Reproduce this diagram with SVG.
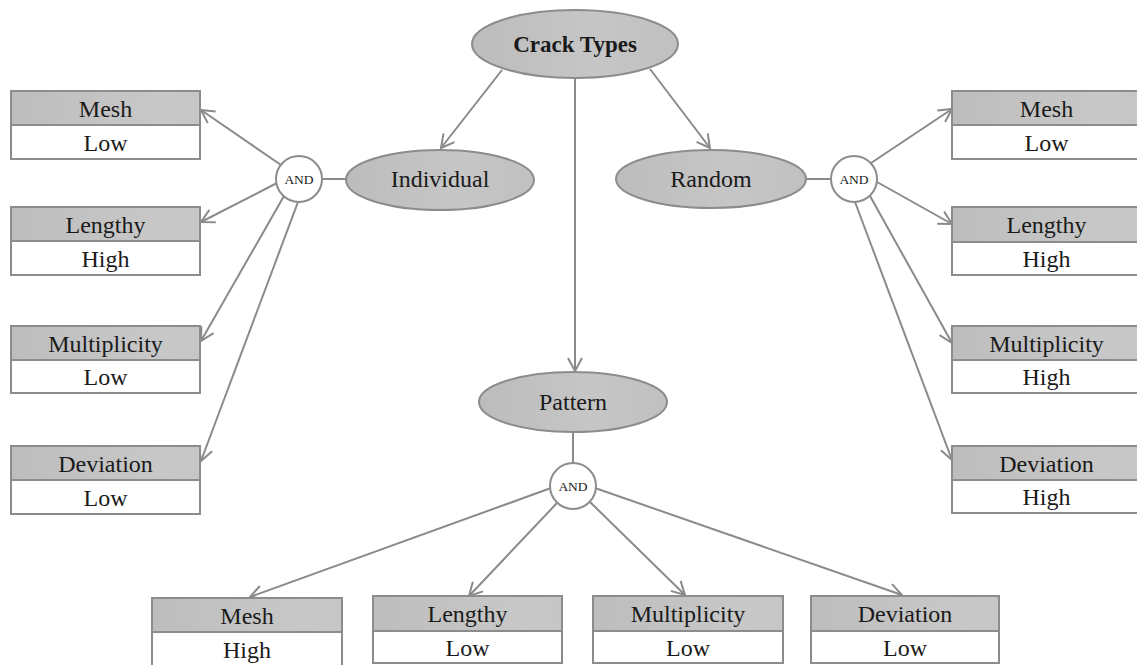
<svg xmlns="http://www.w3.org/2000/svg" width="1137" height="665" viewBox="0 0 1137 665">
<style>
.t{font-family:"Liberation Serif","Times New Roman",serif;font-size:24px;fill:#1a1a1a;text-anchor:middle}
.and{font-family:"Liberation Serif","Times New Roman",serif;font-size:13.5px;fill:#1a1a1a;text-anchor:middle}
.hd{fill:url(#hg);stroke:#8c8c8c;stroke-width:2}
.vl{fill:#fff;stroke:#8c8c8c;stroke-width:2}
.el{fill:url(#eg);stroke:#8c8c8c;stroke-width:2}
.ci{fill:#fff;stroke:#8c8c8c;stroke-width:2}
.c{stroke:#8a8a8a;stroke-width:2;fill:none}
.a{marker-end:url(#ar)}
</style>
<defs>
<linearGradient id="hg" x1="0" x2="1" y1="0" y2="0"><stop offset="0" stop-color="#bdbdbd"/><stop offset="0.8" stop-color="#c8c8c8"/><stop offset="1" stop-color="#c6c6c6"/></linearGradient>
<linearGradient id="eg" x1="0" x2="1" y1="0" y2="0"><stop offset="0" stop-color="#bcbcbc"/><stop offset="0.6" stop-color="#c6c6c6"/><stop offset="1" stop-color="#c0c0c0"/></linearGradient>
<marker id="ar" markerUnits="userSpaceOnUse" markerWidth="16" markerHeight="16" viewBox="0 0 16 16" refX="15" refY="8" orient="auto">
<path d="M2,1 L15,8 L2,15" fill="none" stroke="#8a8a8a" stroke-width="2"/>
</marker>
</defs>
<rect width="1137" height="665" fill="#fff"/>
<g id="connectors">
<line class="c a" x1="502" y1="70" x2="441" y2="148"/>
<line class="c a" x1="650" y1="69" x2="710" y2="148"/>
<line class="c a" x1="575" y1="78" x2="575" y2="371"/>
<line class="c" x1="322" y1="179" x2="346" y2="179"/>
<line class="c" x1="806" y1="179" x2="831" y2="179"/>
<line class="c" x1="573" y1="432" x2="573" y2="463"/>
<line class="c a" x1="281" y1="165" x2="201" y2="110"/>
<line class="c a" x1="277" y1="183" x2="201" y2="222"/>
<line class="c a" x1="284" y1="196" x2="201" y2="341"/>
<line class="c a" x1="298" y1="202" x2="201" y2="461"/>
<line class="c a" x1="871" y1="163" x2="952" y2="109"/>
<line class="c a" x1="877" y1="182" x2="952" y2="224"/>
<line class="c a" x1="870" y1="196" x2="952" y2="343"/>
<line class="c a" x1="855" y1="202" x2="952" y2="460"/>
<line class="c a" x1="551" y1="488" x2="250" y2="597"/>
<line class="c a" x1="557" y1="503" x2="469" y2="596"/>
<line class="c a" x1="590" y1="502" x2="685" y2="595"/>
<line class="c a" x1="595" y1="488" x2="902" y2="595"/>
</g>
<g id="crack-types"><ellipse class="el" cx="575" cy="44" rx="103" ry="34"/><text class="t" x="575" y="52" style="font-weight:bold;font-size:23px">Crack Types</text></g>
<g id="individual"><ellipse class="el" cx="440" cy="180" rx="94" ry="30"/><text class="t" x="440" y="187">Individual</text></g>
<g id="random"><ellipse class="el" cx="711" cy="179" rx="95" ry="29"/><text class="t" x="711" y="187">Random</text></g>
<g id="pattern"><ellipse class="el" cx="573" cy="402" rx="94" ry="30"/><text class="t" x="573" y="410">Pattern</text></g>
<g id="and-left"><circle class="ci" cx="299" cy="179" r="23"/><text class="and" x="299" y="184">AND</text></g>
<g id="and-right"><circle class="ci" cx="854" cy="179" r="23"/><text class="and" x="854" y="184">AND</text></g>
<g id="and-pattern"><circle class="ci" cx="573" cy="486" r="23"/><text class="and" x="573" y="491">AND</text></g>
<g id="l-mesh"><rect class="hd" x="11" y="91" width="189" height="34"/><rect class="vl" x="11" y="125" width="189" height="34"/><text class="t" x="105.5" y="117">Mesh</text><text class="t" x="105.5" y="151">Low</text></g>
<g id="l-lengthy"><rect class="hd" x="11" y="207" width="189" height="34"/><rect class="vl" x="11" y="241" width="189" height="34"/><text class="t" x="105.5" y="233">Lengthy</text><text class="t" x="105.5" y="267">High</text></g>
<g id="l-multiplicity"><rect class="hd" x="11" y="326" width="189" height="34"/><rect class="vl" x="11" y="360" width="189" height="33"/><text class="t" x="105.5" y="352">Multiplicity</text><text class="t" x="105.5" y="385">Low</text></g>
<g id="l-deviation"><rect class="hd" x="11" y="446" width="189" height="34"/><rect class="vl" x="11" y="480" width="189" height="34"/><text class="t" x="105.5" y="472">Deviation</text><text class="t" x="105.5" y="506">Low</text></g>
<g id="r-mesh"><rect class="hd" x="952" y="91" width="189" height="34"/><rect class="vl" x="952" y="125" width="189" height="34"/><text class="t" x="1046.5" y="117">Mesh</text><text class="t" x="1046.5" y="151">Low</text></g>
<g id="r-lengthy"><rect class="hd" x="952" y="207" width="189" height="35"/><rect class="vl" x="952" y="242" width="189" height="33"/><text class="t" x="1046.5" y="233">Lengthy</text><text class="t" x="1046.5" y="267">High</text></g>
<g id="r-multiplicity"><rect class="hd" x="952" y="326" width="189" height="34"/><rect class="vl" x="952" y="360" width="189" height="33"/><text class="t" x="1046.5" y="352">Multiplicity</text><text class="t" x="1046.5" y="385">High</text></g>
<g id="r-deviation"><rect class="hd" x="952" y="446" width="189" height="34"/><rect class="vl" x="952" y="480" width="189" height="33"/><text class="t" x="1046.5" y="472">Deviation</text><text class="t" x="1046.5" y="505">High</text></g>
<g id="b-mesh"><rect class="hd" x="152" y="598" width="190" height="34"/><rect class="vl" x="152" y="632" width="190" height="34"/><text class="t" x="247" y="624">Mesh</text><text class="t" x="247" y="658">High</text></g>
<g id="b-lengthy"><rect class="hd" x="373" y="596" width="189" height="35"/><rect class="vl" x="373" y="631" width="189" height="32"/><text class="t" x="467.5" y="622">Lengthy</text><text class="t" x="467.5" y="656">Low</text></g>
<g id="b-multiplicity"><rect class="hd" x="593" y="596" width="190" height="35"/><rect class="vl" x="593" y="631" width="190" height="32"/><text class="t" x="688" y="622">Multiplicity</text><text class="t" x="688" y="656">Low</text></g>
<g id="b-deviation"><rect class="hd" x="811" y="596" width="188" height="35"/><rect class="vl" x="811" y="631" width="188" height="32"/><text class="t" x="905" y="622">Deviation</text><text class="t" x="905" y="656">Low</text></g>
</svg>
